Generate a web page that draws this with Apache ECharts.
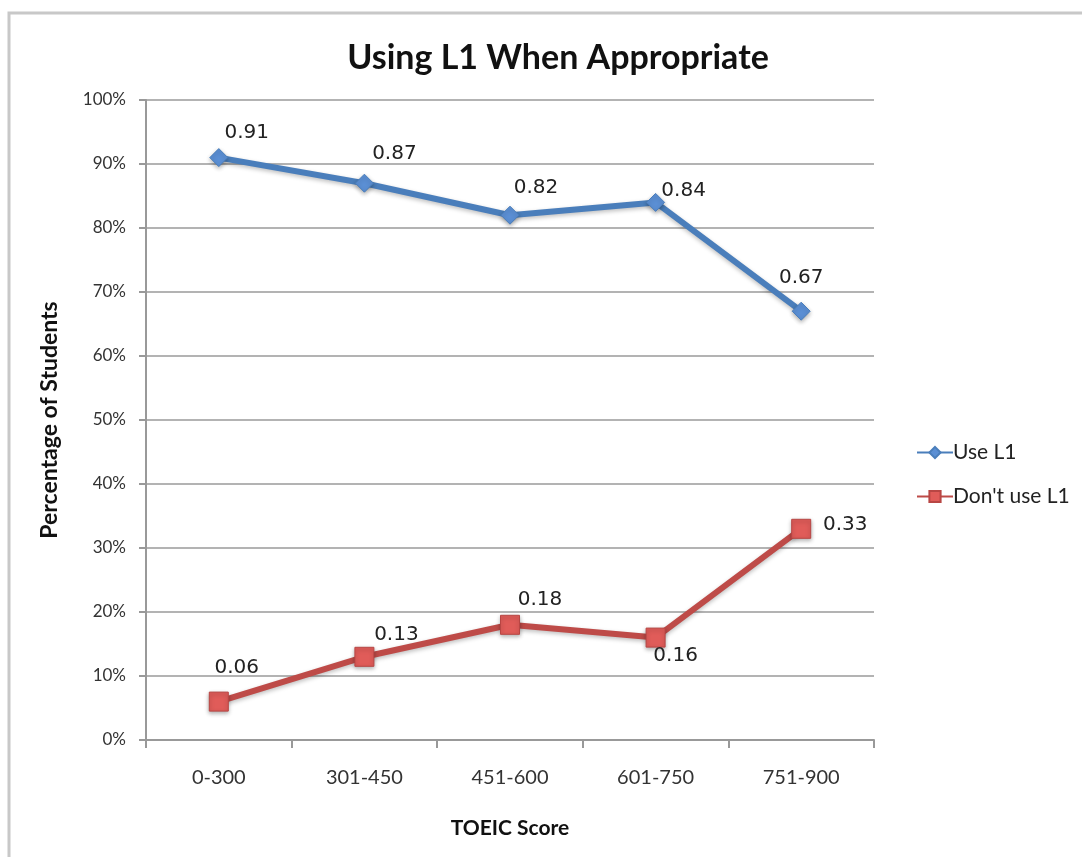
<!DOCTYPE html>
<html>
<head>
<meta charset="utf-8">
<script src="https://cdn.jsdelivr.net/npm/echarts@6/dist/echarts.min.js"></script>
<style>
    html,body{margin:0;padding:0;background:#fff;}
    #chart{width:1082px;height:857px;}
</style>
</head>
<body>
<div id="chart"></div>
<script>
// data
var categories = ['0-300', '301-450', '451-600', '601-750', '751-900'];
var useL1 = [0.91, 0.87, 0.82, 0.84, 0.67];
var dontUseL1 = [0.06, 0.13, 0.18, 0.16, 0.33];

// label placement per point (style only)
var useOffsets = [[28, 1], [30, -4], [26, -2], [28, 14], [0, -8]];
var dontOffsets = [[18, -8], [32, 4], [30, 1], [20, 44], [44, 22]];

var tickFont = 'Lato, "Open Sans", sans-serif';
var labelFont = '"DejaVu Sans", sans-serif';

function withLabels(vals, offsets){
    return vals.map(function(v, i){
        return { value: v, label: { offset: offsets[i] } };
    });
}

var myChart = echarts.init(document.getElementById('chart'));
myChart.setOption({
    animation: false,
    backgroundColor: '#fff',
    graphic: [{
        type: 'rect',
        shape: { x: 9, y: 13, width: 1080, height: 860 },
        style: { fill: 'none', stroke: '#c8c8c8', lineWidth: 3 },
        silent: true
    }],
    title: {
        text: 'Using L1 When Appropriate',
        left: 553,
        top: 36,
        textAlign: 'center',
        textStyle: {
            fontFamily: tickFont,
            fontWeight: 'bold',
            fontSize: 34,
            color: '#111'
        }
    },
    legend: {
        orient: 'vertical',
        left: 911,
        top: 437,
        itemWidth: 36,
        itemHeight: 14,
        itemGap: 23,
        textStyle: { fontFamily: tickFont, fontSize: 21, color: '#222', padding: [0, 0, 0, -5] },
        data: ['Use L1', "Don't use L1"]
    },
    grid: {
        left: 146,
        top: 100,
        width: 728,
        height: 640,
        containLabel: false
    },
    xAxis: {
        type: 'category',
        data: categories,
        boundaryGap: true,
        name: 'TOEIC Score',
        nameLocation: 'middle',
        nameGap: 78,
        nameTextStyle: { fontFamily: tickFont, fontWeight: 'bold', fontSize: 21, color: '#111' },
        axisLine: { lineStyle: { color: '#999', width: 2 } },
        axisTick: { show: true, length: 8, lineStyle: { color: '#999', width: 2 } },
        axisLabel: { margin: 28, fontFamily: tickFont, fontSize: 20, color: '#333' }
    },
    yAxis: {
        type: 'value',
        min: 0,
        max: 1,
        interval: 0.1,
        name: 'Percentage of Students',
        nameLocation: 'middle',
        nameGap: 85,
        nameRotate: 90,
        nameTextStyle: { fontFamily: tickFont, fontWeight: 'bold', fontSize: 23, color: '#111' },
        axisLine: { show: true, lineStyle: { color: '#999', width: 2 } },
        axisTick: { show: true, length: 7, lineStyle: { color: '#999', width: 2 } },
        splitLine: { show: true, lineStyle: { color: '#9a9a9a', width: 1.5 } },
        axisLabel: {
            margin: 20,
            fontFamily: tickFont,
            fontSize: 17,
            color: '#333',
            formatter: function(v){ return Math.round(v * 100) + '%'; }
        }
    },
    series: [
        {
            name: 'Use L1',
            type: 'line',
            data: withLabels(useL1, useOffsets),
            symbol: 'diamond',
            symbolSize: 18,
            color: '#4a7ebb',
            lineStyle: { width: 6, color: '#4a7ebb', shadowColor: 'rgba(0,0,0,0.25)', shadowBlur: 4, shadowOffsetY: 2 },
            itemStyle: { color: '#5b8fd4', borderColor: '#4a7ebb', borderWidth: 1, shadowColor: 'rgba(0,0,0,0.3)', shadowBlur: 4, shadowOffsetY: 2 },
            label: {
                show: true,
                position: 'top',
                distance: 6,
                fontFamily: labelFont,
                fontSize: 20,
                color: '#222'
            },
            z: 3
        },
        {
            name: "Don't use L1",
            type: 'line',
            data: withLabels(dontUseL1, dontOffsets),
            symbol: 'rect',
            symbolSize: 19,
            color: '#be4b48',
            lineStyle: { width: 6, color: '#be4b48', shadowColor: 'rgba(0,0,0,0.25)', shadowBlur: 4, shadowOffsetY: 2 },
            itemStyle: { color: '#e05c59', borderColor: '#b84644', borderWidth: 1, shadowColor: 'rgba(0,0,0,0.3)', shadowBlur: 4, shadowOffsetY: 2 },
            label: {
                show: true,
                position: 'top',
                distance: 6,
                fontFamily: labelFont,
                fontSize: 20,
                color: '#222'
            },
            z: 3
        }
    ]
});
</script>
</body>
</html>
